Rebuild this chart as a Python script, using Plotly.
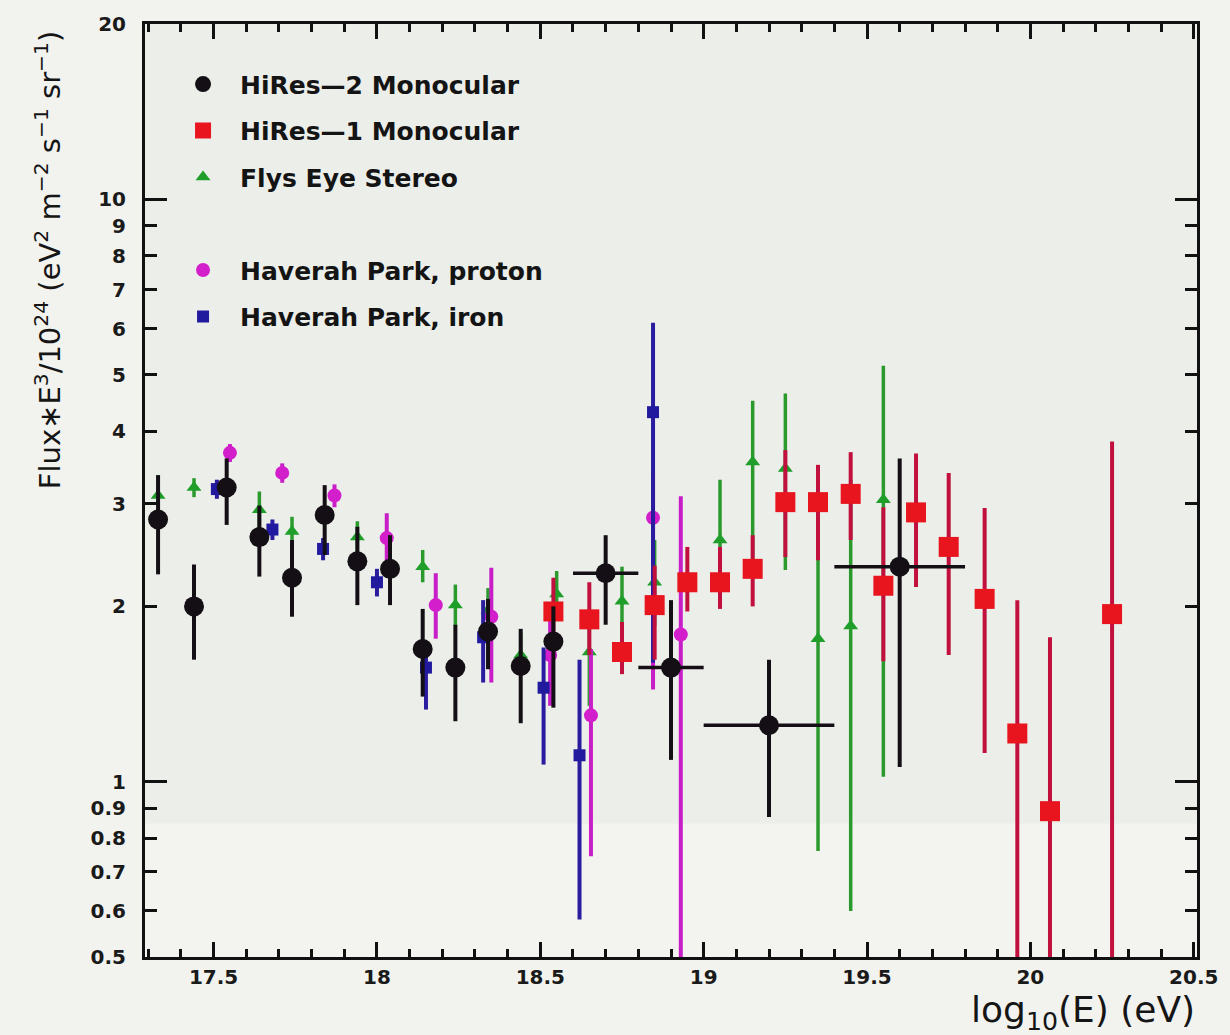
import plotly.graph_objects as go

# ---------------- data ----------------
# HiRes-2 Monocular
hr2_x = [17.33, 17.44, 17.54, 17.64, 17.74, 17.84, 17.94, 18.04, 18.14, 18.24, 18.34, 18.44, 18.54,
         18.70, 18.90, 19.20, 19.60]
hr2_y = [2.82, 2.00, 3.20, 2.63, 2.24, 2.87, 2.39, 2.32, 1.69, 1.57, 1.81, 1.58, 1.74,
         2.28, 1.57, 1.25, 2.34]
hr2_hi = [3.36, 2.36, 3.59, 2.98, 2.60, 3.23, 2.74, 2.65, 1.98, 1.86, 2.06, 1.83, 2.00,
          2.65, 2.05, 1.62, 3.59]
hr2_lo = [2.27, 1.62, 2.76, 2.25, 1.92, 2.45, 2.01, 2.01, 1.40, 1.27, 1.56, 1.26, 1.34,
          1.86, 1.09, 0.87, 1.06]
hr2_xerr = [0, 0, 0, 0, 0, 0, 0, 0, 0, 0, 0, 0, 0, 0.1, 0.1, 0.2, 0.2]

# HiRes-1 Monocular
hr1_x = [18.54, 18.65, 18.75, 18.85, 18.95, 19.05, 19.15, 19.25, 19.35, 19.45, 19.55, 19.65,
         19.75, 19.86, 19.96, 20.06, 20.25]
hr1_y = [1.96, 1.90, 1.67, 2.01, 2.20, 2.20, 2.32, 3.02, 3.02, 3.12, 2.17, 2.90,
         2.53, 2.06, 1.21, 0.89, 1.94]
hr1_hi = [2.24, 2.20, 1.88, 2.35, 2.53, 2.53, 2.65, 3.71, 3.50, 3.68, 2.96, 3.66,
          3.39, 2.95, 2.05, 1.77, 3.84]
hr1_lo = [1.75, 1.65, 1.53, 1.62, 1.96, 1.98, 2.00, 2.43, 2.40, 2.60, 1.61, 2.16,
          1.65, 1.12, 0.20, 0.20, 0.20]

# Flys Eye Stereo
fe_x = [17.33, 17.44, 17.64, 17.74, 17.94, 18.14, 18.24, 18.34, 18.44, 18.55, 18.65, 18.75,
        18.85, 19.05, 19.15, 19.25, 19.35, 19.45, 19.55]
fe_y = [3.10, 3.20, 2.93, 2.69, 2.63, 2.34, 2.01, 1.97, 1.65, 2.10, 1.67, 2.04,
        2.20, 2.60, 3.54, 3.45, 1.76, 1.85, 3.05]
fe_hi = [3.36, 3.32, 3.15, 2.85, 2.80, 2.50, 2.18, 2.15, 1.80, 2.30, 1.85, 2.34,
         2.60, 3.30, 4.51, 4.64, 2.60, 3.30, 5.18]
fe_lo = [2.87, 3.08, 2.72, 2.55, 2.48, 2.20, 1.85, 1.80, 1.52, 1.92, 1.35, 1.75,
         1.85, 2.11, 2.34, 2.31, 0.76, 0.60, 1.02]

# Haverah Park, proton
hpp_x = [17.55, 17.71, 17.87, 18.03, 18.18, 18.35, 18.53, 18.655, 18.845, 18.93]
hpp_y = [3.67, 3.39, 3.10, 2.62, 2.01, 1.92, 1.65, 1.30, 2.84, 1.79]
hpp_hi = [3.80, 3.52, 3.24, 2.89, 2.28, 2.33, 2.00, 1.69, 3.40, 3.09]
hpp_lo = [3.54, 3.26, 2.96, 2.38, 1.76, 1.48, 1.35, 0.745, 1.44, 0.20]

# Haverah Park, iron
hpi_x = [17.51, 17.68, 17.835, 18.00, 18.15, 18.325, 18.51, 18.62, 18.845]
hpi_y = [3.18, 2.71, 2.51, 2.20, 1.57, 1.77, 1.45, 1.11, 4.31]
hpi_hi = [3.30, 2.82, 2.62, 2.32, 1.70, 2.05, 1.70, 1.62, 6.14]
hpi_lo = [3.06, 2.60, 2.40, 2.08, 1.33, 1.48, 1.07, 0.58, 1.60]

y_ticks = [0.5, 0.6, 0.7, 0.8, 0.9, 1, 2, 3, 4, 5, 6, 7, 8, 9, 10, 20]
y_tick_text = ["0.5", "0.6", "0.7", "0.8", "0.9", "1", "2", "3", "4", "5", "6", "7", "8", "9", "10", "20"]
x_ticks = [17.5, 18, 18.5, 19, 19.5, 20, 20.5]
x_tick_text = ["17.5", "18", "18.5", "19", "19.5", "20", "20.5"]

FONT = "DejaVu Sans"


def plus(y, hi):
    return [h - v for v, h in zip(y, hi)]


def minus(y, lo):
    return [v - l for v, l in zip(y, lo)]


fig = go.Figure()

fig.add_trace(go.Scatter(
    x=fe_x, y=fe_y, mode="markers", name="Flys Eye Stereo", legendgroup="g3", legendrank=3,
    marker=dict(symbol="triangle-up", size=13, color="#1f9e2a"),
    error_y=dict(type="data", symmetric=False, array=plus(fe_y, fe_hi), arrayminus=minus(fe_y, fe_lo),
                 color="#2b9a2d", thickness=3.5, width=0),
))
fig.add_trace(go.Scatter(
    x=hpp_x, y=hpp_y, mode="markers", name="Haverah Park, proton", legendgroup="g5", legendrank=5,
    marker=dict(symbol="circle", size=14, color="#d21ecb"),
    error_y=dict(type="data", symmetric=False, array=plus(hpp_y, hpp_hi), arrayminus=minus(hpp_y, hpp_lo),
                 color="#c81ec8", thickness=4, width=0),
))
fig.add_trace(go.Scatter(
    x=hpi_x, y=hpi_y, mode="markers", name="Haverah Park, iron", legendgroup="g6", legendrank=6,
    marker=dict(symbol="square", size=12, color="#221a9e"),
    error_y=dict(type="data", symmetric=False, array=plus(hpi_y, hpi_hi), arrayminus=minus(hpi_y, hpi_lo),
                 color="#2a1c9e", thickness=4, width=0),
))
fig.add_trace(go.Scatter(
    x=hr1_x, y=hr1_y, mode="markers", name="HiRes\u20141 Monocular", legendgroup="g2", legendrank=2,
    marker=dict(symbol="square", size=20, color="#e8141e"),
    error_y=dict(type="data", symmetric=False, array=plus(hr1_y, hr1_hi), arrayminus=minus(hr1_y, hr1_lo),
                 color="#c2103e", thickness=4, width=0),
))
fig.add_trace(go.Scatter(
    x=hr2_x, y=hr2_y, mode="markers", name="HiRes\u20142 Monocular", legendgroup="g1", legendrank=1,
    marker=dict(symbol="circle", size=20, color="#140f14"),
    error_y=dict(type="data", symmetric=False, array=plus(hr2_y, hr2_hi), arrayminus=minus(hr2_y, hr2_lo),
                 color="#140f14", thickness=4, width=0),
    error_x=dict(type="data", array=hr2_xerr, color="#140f14", thickness=3.5, width=0),
))
# blank legend row (spacer between the two legend blocks)
fig.add_trace(go.Scatter(
    x=[None], y=[None], mode="markers", name=" ", legendgroup="g4", legendrank=4,
    marker=dict(size=1, color="rgba(0,0,0,0)"), hoverinfo="skip",
))

fig.update_layout(
    width=1230, height=1035,
    margin=dict(l=145, r=33, t=20, b=78),
    paper_bgcolor="#f2f3ef",
    plot_bgcolor="#eceeea",
    font=dict(family=FONT, color="#151515"),
    showlegend=True,
    legend=dict(
        x=0.02, y=0.96, xanchor="left", yanchor="top",
        bgcolor="rgba(0,0,0,0)", borderwidth=0,
        font=dict(family=FONT, size=25, color="#141414", weight="bold"),
        traceorder="grouped", tracegroupgap=11, itemwidth=64,
    ),
    shapes=[dict(type="rect", xref="paper", yref="y", x0=0, x1=1, y0=0.5, y1=0.848,
                 fillcolor="#f3f4f0", line=dict(width=0), layer="below")],
)

fig.update_xaxes(
    range=[17.29, 20.51],
    tickmode="array", tickvals=x_ticks, ticktext=x_tick_text,
    ticks="inside", ticklen=15, tickwidth=3, tickcolor="#111",
    minor=dict(dtick=0.1, tick0=17.3, ticks="inside", ticklen=8, tickwidth=2.5, tickcolor="#111"),
    showline=True, linewidth=3, linecolor="#111", mirror="ticks",
    showgrid=False, zeroline=False,
    tickfont=dict(family=FONT, size=20, color="#1a1a1a", weight="bold"),
)
fig.update_yaxes(
    type="log", range=[-0.30103, 1.30103],
    tickmode="array", tickvals=y_ticks, ticktext=y_tick_text,
    ticks="inside", ticklen=12, tickwidth=2.5, tickcolor="#111",
    minor=dict(tickmode="array", tickvals=[1, 10], ticks="inside", ticklen=22, tickwidth=3, tickcolor="#111"),
    showline=True, linewidth=3, linecolor="#111", mirror="ticks",
    showgrid=False, zeroline=False,
    ticklabelstandoff=12,
    tickfont=dict(family=FONT, size=20, color="#1a1a1a", weight="bold"),
)

fig.add_annotation(
    xref="paper", yref="paper", x=-0.0922, y=0.995, xanchor="center", yanchor="top",
    text="Flux\u2217E<sup>3</sup>/10<sup>24</sup> (eV<sup>2</sup> m<sup>\u22122</sup> s<sup>\u22121</sup> sr<sup>\u22121</sup>)",
    textangle=-90, showarrow=False, font=dict(family=FONT, size=29, color="#151515"),
)
fig.add_annotation(
    xref="paper", yref="paper", x=1.0, y=-0.0598, xanchor="right", yanchor="middle",
    text="log<sub>10</sub>(E) (eV)", showarrow=False,
    font=dict(family=FONT, size=36, color="#151515"),
)

fig.write_html("out.html")
